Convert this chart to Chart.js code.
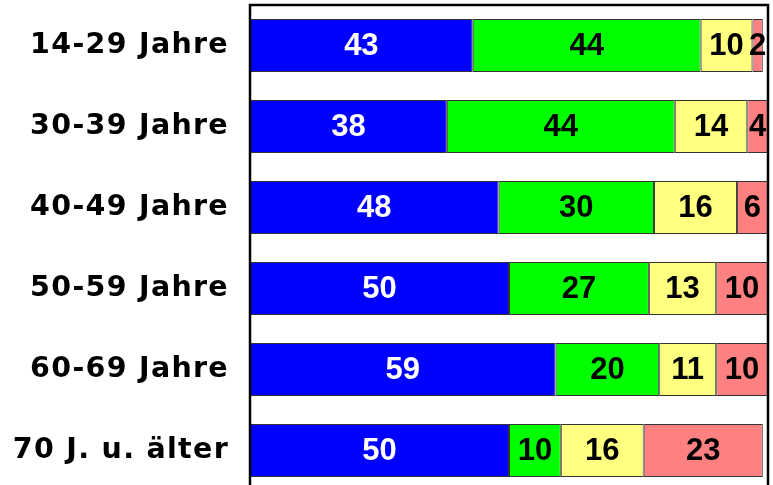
<!DOCTYPE html>
<html>
<head>
<meta charset="utf-8">
<script src="https://cdn.jsdelivr.net/npm/chart.js@4"></script>
<style>
  html, body { margin: 0; padding: 0; background: #fff; overflow: hidden; }
  #wrap { position: relative; width: 773px; height: 491px; }
</style>
</head>
<body>
<div id="wrap"><canvas id="grafica"></canvas></div>
<script>
// Altersgruppen und Anteile (%)
const gruppen = ['14-29 Jahre', '30-39 Jahre', '40-49 Jahre', '50-59 Jahre', '60-69 Jahre', '70 J. u. älter'];
const serieBlau = [43, 38, 48, 50, 59, 50];
const serieGruen = [44, 44, 30, 27, 20, 10];
const serieGelb = [10, 14, 16, 13, 11, 16];
const serieRot = [2, 4, 6, 10, 10, 23];

// Beschriftungen in die Balken schreiben
const wertePlugin = {
    id: 'werte',
    beforeDraw(chart) {
        chart.ctx.letterSpacing = '1.3px';
    },
    beforeDatasetsDraw(chart) {
        chart.ctx.letterSpacing = '0px';
    },
    afterDatasetsDraw(chart) {
        const ctx = chart.ctx;
        ctx.save();
        ctx.font = 'bold 31px "Liberation Sans", Arial, sans-serif';
        ctx.textAlign = 'center';
        ctx.textBaseline = 'middle';
        chart.data.datasets.forEach(function (ds, i) {
            const meta = chart.getDatasetMeta(i);
            meta.data.forEach(function (bar, j) {
                const p = bar.getProps(['x', 'y', 'base'], true);
                ctx.fillStyle = ds.textColor;
                ctx.fillText(String(ds.data[j]), (p.x + p.base) / 2, p.y + 1);
            });
        });
        ctx.restore();
    },
    afterDraw(chart) {
        const a = chart.chartArea;
        const ctx = chart.ctx;
        ctx.save();
        ctx.strokeStyle = '#000';
        ctx.lineWidth = 2.5;
        ctx.strokeRect(a.left, a.top, a.right - a.left, a.bottom - a.top + 10);
        ctx.restore();
    }
};

function serie(daten, farbe, textFarbe) {
    return {
        data: daten,
        backgroundColor: farbe,
        borderColor: '#333',
        borderWidth: 1,
        borderSkipped: false,
        textColor: textFarbe,
        categoryPercentage: 1,
        barPercentage: 0.655
    };
}

new Chart(document.getElementById('grafica').getContext('2d'), {
    type: 'bar',
    data: {
        labels: gruppen,
        datasets: [
            serie(serieBlau, '#0000ff', '#ffffff'),
            serie(serieGruen, '#00ff00', '#000000'),
            serie(serieGelb, '#ffff80', '#000000'),
            serie(serieRot, '#ff8080', '#000000')
        ]
    },
    options: {
        indexAxis: 'y',
        responsive: true,
        maintainAspectRatio: false,
        animation: false,
        layout: { padding: { top: 5, right: 5, left: 0, bottom: 0 } },
        plugins: {
            legend: { display: false },
            tooltip: { enabled: false }
        },
        scales: {
            x: {
                display: false,
                stacked: true,
                min: 0,
                max: 100
            },
            y: {
                stacked: true,
                grid: { display: false },
                border: { display: false },
                afterFit(scale) {
                    scale.width = 250;
                    scale.paddingTop = 0;
                    scale.paddingBottom = 0;
                },
                ticks: {
                    color: '#000',
                    padding: 13,
                    font: { family: '"DejaVu Sans", Verdana, sans-serif', weight: 'bold', size: 28.5 }
                }
            }
        }
    },
    plugins: [wertePlugin]
});
</script>
</body>
</html>
